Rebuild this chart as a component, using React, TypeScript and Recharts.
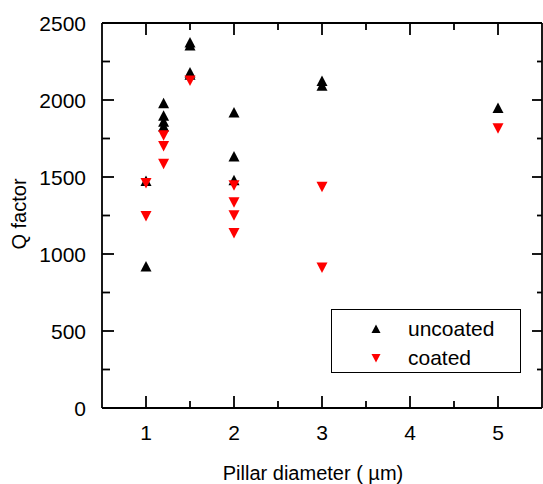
import React from 'react';
import { ScatterChart, Scatter, XAxis, YAxis, Legend, Label, ReferenceLine } from 'recharts';

const uncoatedDiameter = [1, 1, 1.2, 1.2, 1.2, 1.2, 1.5, 1.5, 1.5, 1.5, 2, 2, 2, 3, 3, 5];
const uncoatedQ = [1470, 915, 1975, 1895, 1855, 1825, 2370, 2350, 2175, 2160, 1915, 1630, 1475, 2120, 2090, 1945];
const coatedDiameter = [1, 1, 1.2, 1.2, 1.2, 1.5, 2, 2, 2, 2, 3, 3, 5];
const coatedQ = [1465, 1250, 1775, 1705, 1590, 2130, 1450, 1340, 1255, 1140, 1440, 915, 1820];

const xTicks = [1, 1.5, 2, 2.5, 3, 3.5, 4, 4.5, 5];
const yTicks = [0, 250, 500, 750, 1000, 1250, 1500, 1750, 2000, 2250, 2500];
const legendOrder = ['uncoated', 'coated'];

const uncoated = uncoatedDiameter.map((d, i) => ({ d, q: uncoatedQ[i] }));
const coated = coatedDiameter.map((d, i) => ({ d, q: coatedQ[i] }));

const font = '"Liberation Sans", Arial, sans-serif';

// plot frame in pixels
const LEFT = 102;
const TOP = 23;
const RIGHT = 542;
const BOTTOM = 408;

const UpTriangle = ({ cx, cy }: any) => (
  <polygon points={`${cx},${cy - 6} ${cx + 5.5},${cy + 4.5} ${cx - 5.5},${cy + 4.5}`} fill="#000" />
);
const DownTriangle = ({ cx, cy }: any) => (
  <polygon points={`${cx - 5.5},${cy - 4.5} ${cx + 5.5},${cy - 4.5} ${cx},${cy + 6}`} fill="#ff0000" />
);

// ticks point inward on all four sides, so they are drawn by hand
const mark = (d: string) => <path d={d} stroke="#000" strokeWidth={1.8} fill="none" />;

const XTick = ({ x, payload }: any) => {
  const major = Number.isInteger(payload.value);
  const len = major ? 12 : 7;
  return (
    <g>
      {mark(`M${x},${BOTTOM}V${BOTTOM - len}`)}
      {mark(`M${x},${TOP}V${TOP + len}`)}
      {major && (
        <text x={x} y={BOTTOM + 32} textAnchor="middle" fontSize={21} fontFamily={font} fill="#000">
          {payload.value}
        </text>
      )}
    </g>
  );
};

const YTick = ({ y, payload }: any) => {
  const major = payload.value % 500 === 0;
  return (
    <g>
      {mark(`M${LEFT},${y}H${LEFT + (major ? 12 : 8)}`)}
      {mark(`M${RIGHT},${y}H${RIGHT - (major ? 10 : 5)}`)}
      {major && (
        <text x={LEFT - 16} y={y + 7.5} textAnchor="end" fontSize={21} fontFamily={font} fill="#000">
          {payload.value}
        </text>
      )}
    </g>
  );
};

const LegendBox = ({ payload }: any) => {
  const items = [...(payload || [])].sort(
    (a: any, b: any) => legendOrder.indexOf(a.value) - legendOrder.indexOf(b.value)
  );
  return (
    <div
      style={{
        boxSizing: 'border-box',
        position: 'relative',
        width: 190,
        height: 64,
        border: '1.5px solid #000',
        background: '#fff',
        fontFamily: font,
        fontSize: 21,
        color: '#000',
      }}
    >
      {items.map((item: any, i: number) => (
        <div key={item.value} style={{ position: 'absolute', left: 0, top: 6 + i * 29, height: 26, width: '100%' }}>
          <svg width={12} height={12} style={{ position: 'absolute', left: 38, top: 7 }}>
            {item.value === 'uncoated' ? (
              <polygon points="6,1.5 10.5,10 1.5,10" fill="#000" />
            ) : (
              <polygon points="1.5,2 10.5,2 6,10.5" fill="#ff0000" />
            )}
          </svg>
          <span style={{ position: 'absolute', left: 76, top: 0, lineHeight: '26px' }}>{item.value}</span>
        </div>
      ))}
    </div>
  );
};

export default function App() {
  return (
    <div style={{ position: 'absolute', left: 0, top: 0 }}>
      <ScatterChart
        width={543}
        height={484}
        margin={{ top: TOP, right: 543 - RIGHT, bottom: 0, left: 0 }}
      >
        <XAxis
          dataKey="d"
          type="number"
          domain={[0.5, 5.5]}
          ticks={xTicks}
          interval={0}
          height={484 - BOTTOM}
          tickLine={false}
          tick={<XTick />}
          axisLine={{ stroke: '#000', strokeWidth: 1.8 }}
        >
          <Label
            content={() => (
              <text x={313} y={480} textAnchor="middle" fontSize={20} fontFamily={font} fill="#000">
                Pillar diameter ( µm)
              </text>
            )}
          />
        </XAxis>
        <YAxis
          dataKey="q"
          type="number"
          domain={[0, 2500]}
          ticks={yTicks}
          interval={0}
          width={LEFT}
          tickLine={false}
          tick={<YTick />}
          axisLine={{ stroke: '#000', strokeWidth: 1.8 }}
        >
          <Label
            content={() => (
              <text
                x={19}
                y={214}
                transform="rotate(-90, 19, 214)"
                textAnchor="middle"
                dominantBaseline="central"
                fontSize={20}
                fontFamily={font}
                fill="#000"
              >
                Q factor
              </text>
            )}
          />
        </YAxis>
        <ReferenceLine y={2500} stroke="#000" strokeWidth={1.8} />
        <ReferenceLine x={5.5} stroke="#000" strokeWidth={1.8} />
        <Legend
          layout="vertical"
          align="center"
          verticalAlign="middle"
          wrapperStyle={{ left: 331, top: 309, width: 190, height: 64 }}
          content={<LegendBox />}
        />
        <Scatter
          name="uncoated"
          data={uncoated}
          fill="#000"
          shape={<UpTriangle />}
          isAnimationActive={false}
        />
        <Scatter
          name="coated"
          data={coated}
          fill="#ff0000"
          shape={<DownTriangle />}
          isAnimationActive={false}
        />
      </ScatterChart>
    </div>
  );
}
